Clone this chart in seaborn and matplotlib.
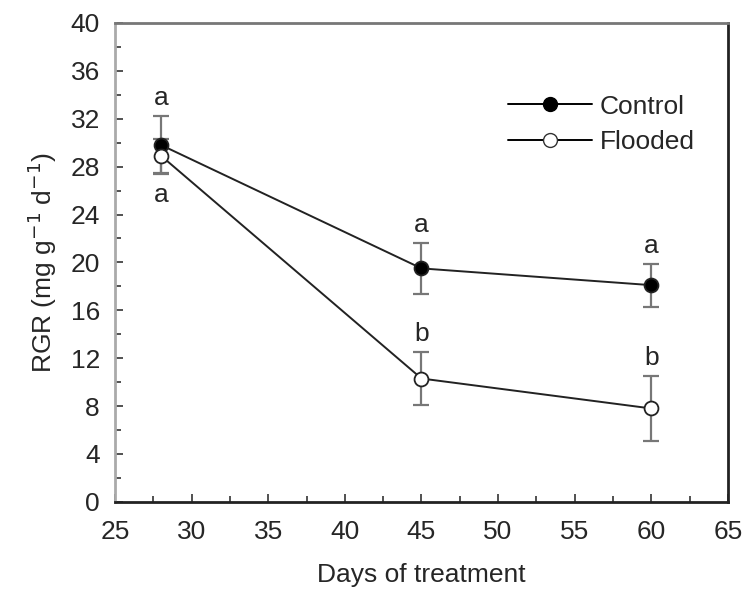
import numpy as np
import pandas as pd
import matplotlib
matplotlib.use("Agg")
import matplotlib.pyplot as plt
import seaborn as sns
from matplotlib.ticker import MultipleLocator
from matplotlib.lines import Line2D

days = [28, 45, 60]
control_rgr = [29.8, 19.5, 18.1]
control_se = [2.4, 2.1, 1.8]
flooded_rgr = [28.9, 10.3, 7.8]
flooded_se = [1.4, 2.2, 2.7]
control_letters = ["a", "a", "a"]
flooded_letters = ["a", "b", "b"]

df = pd.DataFrame({
    "day": days * 2,
    "rgr": control_rgr + flooded_rgr,
    "group": ["Control"] * 3 + ["Flooded"] * 3,
})

sns.set_style("ticks")
plt.rcParams["font.family"] = ["Liberation Sans", "DejaVu Sans"]

fig = plt.figure(figsize=(7.48, 5.89), dpi=100)
ax = fig.add_axes([0.154, 0.148, 0.819, 0.813])

# error bars first so markers sit on top
ax.errorbar(days, control_rgr, yerr=control_se, fmt="none", ecolor="#777777",
            elinewidth=1.6, capsize=6, capthick=1.6, zorder=2)
ax.errorbar(days, flooded_rgr, yerr=flooded_se, fmt="none", ecolor="#777777",
            elinewidth=1.6, capsize=6, capthick=1.6, zorder=2)

sns.lineplot(data=df, x="day", y="rgr", hue="group", style="group",
             palette={"Control": "#222222", "Flooded": "#222222"},
             markers={"Control": "o", "Flooded": "o"}, dashes=False,
             markersize=10, linewidth=1.4, legend=False, ax=ax, zorder=3)

# marker fills: control black, flooded white
for line, face in zip(ax.lines[-2:], ["black", "white"]):
    line.set_markerfacecolor(face)
    line.set_markeredgecolor("#222222")
    line.set_markeredgewidth(1.3)

fs = 19
# significance letters
for d, v, s, t in zip(days, control_rgr, control_se, control_letters):
    ax.text(d, v + s + 0.5, t, ha="center", va="bottom", fontsize=fs)
for i, (d, v, s, t) in enumerate(zip(days, flooded_rgr, flooded_se, flooded_letters)):
    if i == 0:
        ax.text(d, v - s - 0.9, t, ha="center", va="top", fontsize=fs)
    else:
        ax.text(d, v + s + 0.5, t, ha="center", va="bottom", fontsize=fs)

ax.set_xlim(25, 65)
ax.set_ylim(0, 40)
ax.xaxis.set_major_locator(MultipleLocator(5))
ax.xaxis.set_minor_locator(MultipleLocator(2.5))
ax.yaxis.set_major_locator(MultipleLocator(4))
ax.yaxis.set_minor_locator(MultipleLocator(2))
ax.tick_params(which="both", direction="in", top=False, right=False,
               labelsize=fs, color="#333333")
ax.tick_params(axis="y", which="both", pad=11)
ax.tick_params(axis="x", which="both", pad=13)
ax.tick_params(which="major", length=6, width=1.2)
ax.tick_params(which="minor", length=4, width=1.2)
for sp in ax.spines.values():
    sp.set_visible(True)
    sp.set_linewidth(2.0)
    sp.set_color("#222222")
ax.spines["left"].set_color("#aaaaaa")
ax.spines["top"].set_color("#777777")

ax.set_xlabel("Days of treatment", fontsize=fs, labelpad=14)
ax.set_ylabel("RGR (mg g$^{-1}$ d$^{-1}$)", fontsize=fs, labelpad=8)

handles = [
    Line2D([], [], color="black", marker="o", markersize=10, markerfacecolor="black",
           markeredgecolor="black", linewidth=1.4),
    Line2D([], [], color="black", marker="o", markersize=10, markerfacecolor="white",
           markeredgecolor="#333333", linewidth=1.4),
]
ax.legend(handles, ["Control", "Flooded"], loc="upper right", frameon=False,
          fontsize=fs, handlelength=3.2, handletextpad=0.3, labelspacing=0.45,
          bbox_to_anchor=(0.985, 0.9))

fig.savefig("out.png", dpi=100)
